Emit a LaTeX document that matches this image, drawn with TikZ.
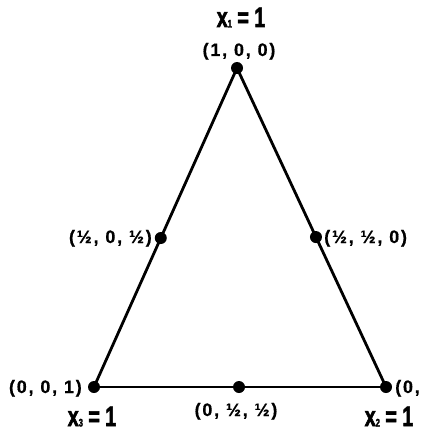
\documentclass[tikz,border=0pt]{standalone}
\usepackage{fontspec}
\usetikzlibrary{calc}
\setmainfont{Liberation Sans}
\newfontfamily\titlefont[FakeStretch=0.7,FakeBold=2]{Liberation Sans Bold}
\newfontfamily\coordfont[LetterSpace=10,FakeBold=0.6]{Liberation Sans Bold}
\newcommand{\tsub}[1]{\raisebox{-0.5pt}{\fontsize{11}{11}\selectfont #1}}
\begin{document}
\begin{tikzpicture}[x=1pt,y=-1pt,
  vdot/.style={circle,fill=black,inner sep=0pt,minimum size=12pt},
  edge/.style={line width=2.8pt,line cap=round},
  ttl/.style={inner sep=0pt,anchor=base,font=\titlefont\fontsize{28}{28}\selectfont},
  crd/.style={inner sep=0pt,font=\coordfont\fontsize{18}{18}\selectfont}]
\useasboundingbox (0,0) rectangle (422,436);
% vertices
\node[vdot] (A) at (237,68) {};
\node[vdot] (B) at (94,387) {};
\node[vdot] (C) at (386,387) {};
% edges
\draw[edge] (A.center) -- (B.center);
\draw[edge] (A.center) -- (C.center);
\draw[edge] (B.center) -- (C.center);
% midpoints
\node[vdot] (L) at ($(B)!0.467!(A)$) {};
\node[vdot] (R) at ($(C)!0.47!(A)$) {};
\node[vdot] (M) at (239,387) {};
% titles
\node[ttl] (t1) at (241,27) {x\tsub{1} = 1};
\node[ttl] (t3) at (92,426) {x\tsub{3} = 1};
\node[ttl] (t2) at (389,426) {x\tsub{2} = 1};
% coordinate labels
\node[crd,anchor=base] (cA) at (239,56) {(1, 0, 0)};
\node[crd,anchor=base east] (cB) at (82,393) {(0, 0, 1)};
\node[crd,anchor=base west] (cC) at (395,393) {(0,};
\node[crd,anchor=base] (cM) at (236,416) {(0, ½, ½)};
\node[crd,anchor=base east] (cL) at (152,243) {(½, 0, ½)};
\node[crd,anchor=base west] (cR) at (324,243) {(½, ½, 0)};
\end{tikzpicture}
\end{document}
